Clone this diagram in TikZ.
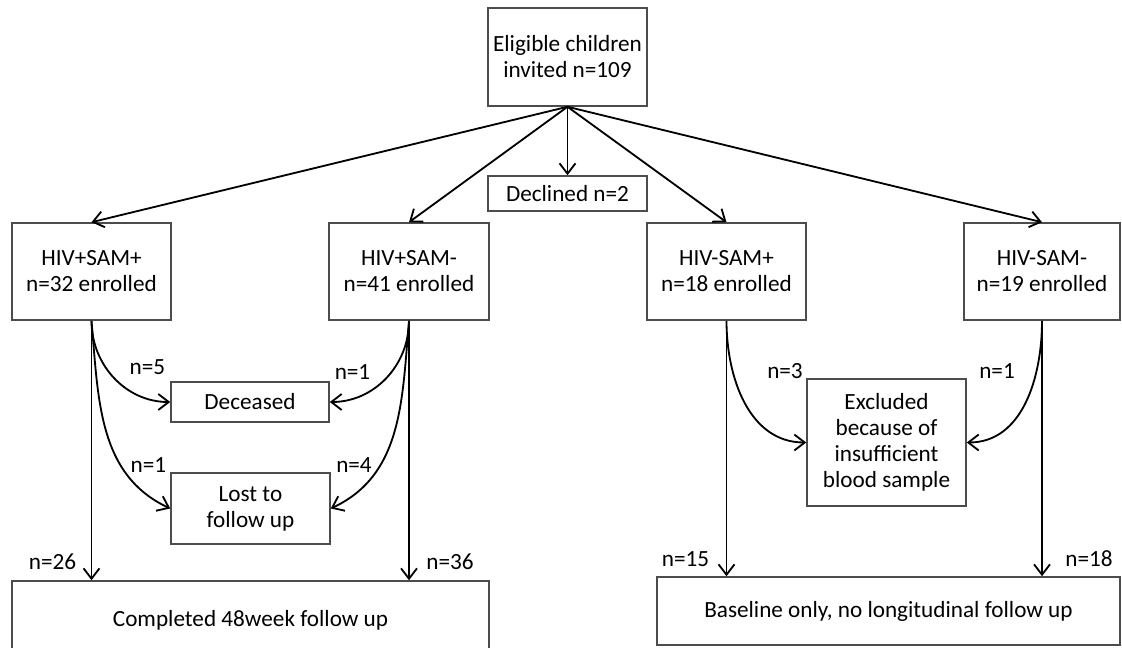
\documentclass[tikz,border=0pt]{standalone}
\usepackage{fontspec}
\setmainfont{Carlito}
\usetikzlibrary{arrows.meta}
\tikzset{
  box/.style={draw=black!70, line width=1.1pt, align=center, inner sep=2pt, font=\fontsize{16.5pt}{18.5pt}\selectfont},
  flow/.style={line width=1.3pt, -{Straight Barb[length=2.6mm,width=4mm,line width=1.3pt]}},
  count/.style={font=\fontsize{16.5pt}{18pt}\selectfont, inner sep=0pt}
}
\begin{document}
\begin{tikzpicture}[x=0.025cm, y=-0.025cm]
    \useasboundingbox (0,0) rectangle (1122,648);
    % top
    \node[box, minimum width=3.975cm, minimum height=2.45cm] (invited) at (567.5,57) {Eligible children\\invited n=109};
    \node[box, minimum width=3.975cm, minimum height=0.875cm] (declined) at (567.5,193.5) {Declined n=2};
    % groups
    \node[box, minimum width=3.975cm, minimum height=2.425cm] (hpsp) at (91.5,271.5) {HIV+SAM+\\n=32 enrolled};
    \node[box, minimum width=4cm, minimum height=2.425cm] (hpsm) at (409,271.5) {HIV+SAM-\\n=41 enrolled};
    \node[box, minimum width=3.975cm, minimum height=2.425cm] (hmsp) at (726.5,271.5) {HIV-SAM+\\n=18 enrolled};
    \node[box, minimum width=3.9cm, minimum height=2.425cm] (hmsm) at (1042,271.5) {HIV-SAM-\\n=19 enrolled};
    % losses
    \node[box, minimum width=3.95cm, minimum height=1cm] (deceased) at (250,402) {Deceased};
    \node[box, minimum width=3.975cm, minimum height=1.775cm] (lost) at (250.5,508.5) {Lost to\\follow up};
    \node[box, minimum width=3.975cm, minimum height=3.175cm] (excluded) at (886.5,442.5) {Excluded\\because of\\insufficient\\blood sample};
    % outcomes
    \node[box, minimum width=11.925cm, minimum height=1.95cm] (completed) at (250.5,620) {Completed 48week follow up};
    \node[box, minimum width=11.575cm, minimum height=1.7cm] (baseline) at (888.5,611) {Baseline only, no longitudinal follow up};

    \draw[flow] (invited.south) -- (declined.north);
    \draw[flow] (invited.south) -- (hpsp.north);
    \draw[flow] (invited.south) -- (hpsm.north);
    \draw[flow] (invited.south) -- (hmsp.north);
    \draw[flow] (invited.south) -- (hmsm.north);

    \draw[flow] (hpsp.south) to[out=-90, in=180] (deceased.west);
    \draw[flow] (hpsp.south) to[out=-85, in=155] (lost.west);
    \draw[flow] (hpsp.south) -- (hpsp.south |- completed.north);
    \draw[flow] (hpsm.south) to[out=-90, in=0] (deceased.east);
    \draw[flow] (hpsm.south) to[out=-95, in=25] (lost.east);
    \draw[flow] (hpsm.south) -- (hpsm.south |- completed.north);

    \draw[flow] (hmsp.south) to[out=-90, in=180] (excluded.west);
    \draw[flow] (hmsp.south) -- (hmsp.south |- baseline.north);
    \draw[flow] (hmsm.south) to[out=-90, in=0] (excluded.east);
    \draw[flow] (hmsm.south) -- (hmsm.south |- baseline.north);

    \node[count] (c5) at (147.5,367) {n=5};
    \node[count] (c1a) at (352.5,372) {n=1};
    \node[count] (c1b) at (148.5,465) {n=1};
    \node[count] (c4) at (354,465) {n=4};
    \node[count] (c26) at (52.5,562) {n=26};
    \node[count] (c36) at (450,562) {n=36};
    \node[count] (c3) at (785,371) {n=3};
    \node[count] (c1c) at (997,371) {n=1};
    \node[count] (c15) at (685.5,559) {n=15};
    \node[count] (c18) at (1089,559) {n=18};
\end{tikzpicture}
\end{document}
